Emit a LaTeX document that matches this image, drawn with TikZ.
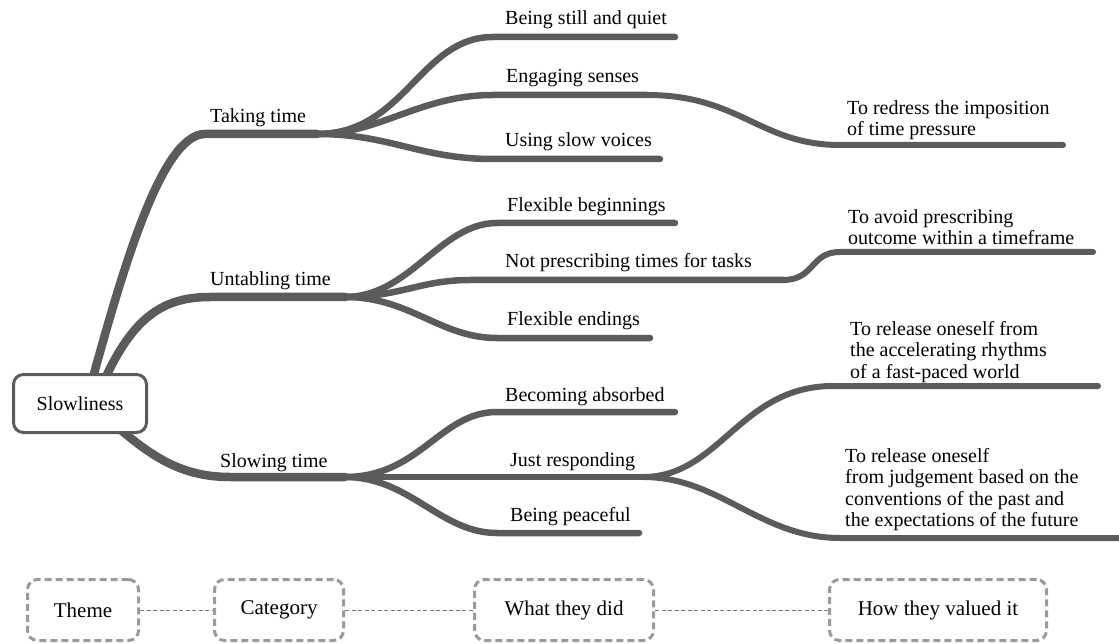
\documentclass[tikz,border=0pt]{standalone}
\usepackage{fontspec}
\setmainfont{Liberation Serif}
\definecolor{br}{HTML}{5B5B5B}
\definecolor{lg}{HTML}{9A9A9A}
\definecolor{cn}{HTML}{7A7A7A}
\tikzset{
  themebr/.style={draw=br, line width=8.5pt, line cap=round},
  subbr/.style={draw=br, line width=6.5pt, line cap=round},
  valbr/.style={draw=br, line width=6pt, line cap=round},
  lbl/.style={anchor=base west, inner sep=0pt, font=\fontsize{20}{21.5}\selectfont},
  vlbl/.style={anchor=north west, inner sep=0pt, align=left, font=\fontsize{20}{21.5}\selectfont},
  rootbox/.style={draw=br, line width=3pt, rounded corners=10pt, fill=white,
    minimum width=133pt, minimum height=58pt, font=\fontsize{20}{22}\selectfont},
  legendbox/.style={draw=lg, line width=3pt, dash pattern=on 7pt off 4pt, rounded corners=10pt,
    minimum height=61pt, fill=white, font=\fontsize{21}{23}\selectfont},
  conn/.style={draw=cn, line width=1pt, dash pattern=on 4pt off 2.5pt},
}
\begin{document}
\begin{tikzpicture}[x=1pt, y=-1pt]
\useasboundingbox (0,0) rectangle (1119,644);

% fan points
\coordinate (fT) at (317,134);
\coordinate (fU) at (345,297);
\coordinate (fS) at (345,477);
\coordinate (jR) at (643,477);
\coordinate (jN) at (783,280);
\coordinate (jE) at (647,95);

% theme branches
\draw[themebr] (90,388) .. controls (120,280) and (160,134) .. (205,134) -- (fT);
\draw[themebr] (100,390) .. controls (130,320) and (160,297) .. (210,297) -- (fU);
\draw[themebr] (115,425) .. controls (150,455) and (180,477) .. (230,477) -- (fS);

% Taking time subbranches
\draw[subbr] (fT) .. controls (405,134) and (420,37) .. (493,37) -- (675,37);
\draw[subbr] (fT) .. controls (380,134) and (420,95) .. (493,95) -- (jE);
\draw[subbr] (fT) .. controls (390,134) and (420,159) .. (493,159) -- (660,159);
\draw[valbr] (jE) .. controls (740,95) and (760,145) .. (840,145) -- (1063,145);

% Untabling time subbranches
\draw[subbr] (fU) .. controls (410,297) and (440,223) .. (497,223) -- (675,223);
\draw[subbr] (fU) .. controls (400,297) and (420,280) .. (470,280) -- (jN);
\draw[subbr] (fU) .. controls (410,297) and (440,338) .. (497,338) -- (650,338);
\draw[valbr] (jN) .. controls (815,280) and (810,252) .. (840,252) -- (1093,252);

% Slowing time subbranches
\draw[subbr] (fS) .. controls (420,477) and (440,412) .. (497,412) -- (675,412);
\draw[subbr] (fS) -- (jR);
\draw[subbr] (fS) .. controls (410,477) and (440,533) .. (497,533) -- (639,533);
\draw[valbr] (jR) .. controls (720,477) and (740,386) .. (833,386) -- (1098,386);
\draw[valbr] (jR) .. controls (720,477) and (760,538) .. (840,538) -- (1130,538);

% root
\node[rootbox] (root) at (80,403.5) {Slowliness};

% theme labels
\node[lbl] (tTake) at (210,123) {Taking time};
\node[lbl] (tUnt) at (210,286) {Untabling time};
\node[lbl] (tSlow) at (220,467) {Slowing time};

% category labels
\node[lbl] (c1) at (505,25) {Being still and quiet};
\node[lbl] (c2) at (506,83) {Engaging senses};
\node[lbl] (c3) at (505,147) {Using slow voices};
\node[lbl] (c4) at (507,212) {Flexible beginnings};
\node[lbl] (c5) at (505,268) {Not prescribing times for tasks};
\node[lbl] (c6) at (507,325) {Flexible endings};
\node[lbl] (c7) at (505,401) {Becoming absorbed};
\node[lbl] (c8) at (510,466) {Just responding};
\node[lbl] (c9) at (510,521) {Being peaceful};

% value labels
\node[vlbl] (v1) at (847,100) {\rule{0pt}{14pt}To redress the imposition\\of time pressure};
\node[vlbl] (v2) at (848,209) {\rule{0pt}{14pt}To avoid prescribing\\outcome within a timeframe};
\node[vlbl] (v3) at (850,321) {\rule{0pt}{14pt}To release oneself from\\the accelerating rhythms\\of a fast-paced world};
\node[vlbl] (v4) at (845,448) {\rule{0pt}{14pt}To release oneself\\from judgement based on the\\conventions of the past and\\the expectations of the future};

% legend
\node[legendbox, minimum width=111pt] (lTheme) at (83,610) {Theme};
\node[legendbox, minimum width=129pt] (lCat) at (279,610) {Category};
\node[legendbox, minimum width=179pt] (lWhat) at (564,610) {What they did};
\node[legendbox, minimum width=217pt] (lHow) at (938,610) {How they valued it};
\draw[conn] (lTheme) -- (lCat);
\draw[conn] (lCat) -- (lWhat);
\draw[conn] (lWhat) -- (lHow);
\end{tikzpicture}
\end{document}
